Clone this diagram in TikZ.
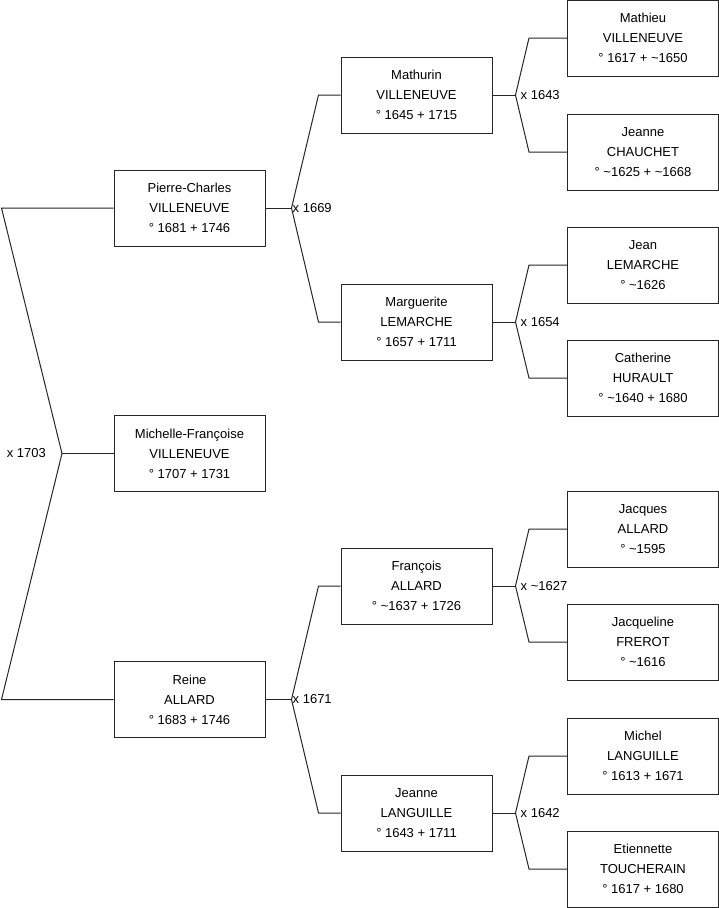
\documentclass[tikz,border=0pt]{standalone}
\usepackage{fontspec}
\setmainfont{Liberation Sans}
\usepackage{tikz}
\usetikzlibrary{positioning}

\begin{document}
\begin{tikzpicture}[
  x=1pt, y=-1pt,
  person/.style={draw=black!85, line width=1pt, fill=white, align=center, minimum width=151pt, minimum height=76pt, inner sep=0pt, font=\fontsize{13}{20}\selectfont},
  link/.style={draw=black!85, line width=1pt},
  wed/.style={inner sep=1pt, font=\fontsize{13}{15}\selectfont},
]
\useasboundingbox (0,0) rectangle (719,908);

% generation 1
\node[person] (pc) at (189.5,208) {Pierre-Charles\\VILLENEUVE\\° 1681 + 1746};
\node[person] (mf) at (189.5,453.5) {Michelle-Françoise\\VILLENEUVE\\° 1707 + 1731};
\node[person] (reine) at (189.5,699.5) {Reine\\ALLARD\\° 1683 + 1746};

% generation 2
\node[person] (mat) at (416.5,95) {Mathurin\\VILLENEUVE\\° 1645 + 1715};
\node[person] (marg) at (416.5,322) {Marguerite\\LEMARCHE\\° 1657 + 1711};
\node[person] (fran) at (416.5,586) {François\\ALLARD\\° \textasciitilde 1637 + 1726};
\node[person] (jlang) at (416.5,813) {Jeanne\\LANGUILLE\\° 1643 + 1711};

% generation 3
\node[person] (mathieu) at (643,38) {Mathieu\\VILLENEUVE\\° 1617 + \textasciitilde 1650};
\node[person] (jchau) at (643,152) {Jeanne\\CHAUCHET\\° \textasciitilde 1625 + \textasciitilde 1668};
\node[person] (jean) at (643,265) {Jean\\LEMARCHE\\° \textasciitilde 1626};
\node[person] (cath) at (643,378) {Catherine\\HURAULT\\° \textasciitilde 1640 + 1680};
\node[person] (jacq) at (643,529) {Jacques\\ALLARD\\° \textasciitilde 1595};
\node[person] (jfre) at (643,642) {Jacqueline\\FREROT\\° \textasciitilde 1616};
\node[person] (mich) at (643,756) {Michel\\LANGUILLE\\° 1613 + 1671};
\node[person] (etien) at (643,869) {Etiennette\\TOUCHERAIN\\° 1617 + 1680};

% marriage forks
\coordinate (j0) at (62,453.5);
\coordinate (j1a) at ([xshift=26pt]pc.east);
\coordinate (j1b) at ([xshift=26pt]reine.east);
\coordinate (j2a) at ([xshift=23pt]mat.east);
\coordinate (j2b) at ([xshift=23pt]marg.east);
\coordinate (j2c) at ([xshift=23pt]fran.east);
\coordinate (j2d) at ([xshift=23pt]jlang.east);

\draw[link] (pc.west) -- ([xshift=-112pt]pc.west) -- (j0) -- ([xshift=-112pt]reine.west) -- (reine.west);
\draw[link] (j0) -- (mf.west);

\draw[link] (pc.east) -- (j1a);
\draw[link] (mat.west) -- ([xshift=-22pt]mat.west) -- (j1a) -- ([xshift=-22pt]marg.west) -- (marg.west);
\draw[link] (reine.east) -- (j1b);
\draw[link] (fran.west) -- ([xshift=-22pt]fran.west) -- (j1b) -- ([xshift=-22pt]jlang.west) -- (jlang.west);

\draw[link] (mat.east) -- (j2a);
\draw[link] (mathieu.west) -- ([xshift=-38pt]mathieu.west) -- (j2a) -- ([xshift=-38pt]jchau.west) -- (jchau.west);
\draw[link] (marg.east) -- (j2b);
\draw[link] (jean.west) -- ([xshift=-38pt]jean.west) -- (j2b) -- ([xshift=-38pt]cath.west) -- (cath.west);
\draw[link] (fran.east) -- (j2c);
\draw[link] (jacq.west) -- ([xshift=-38pt]jacq.west) -- (j2c) -- ([xshift=-38pt]jfre.west) -- (jfre.west);
\draw[link] (jlang.east) -- (j2d);
\draw[link] (mich.west) -- ([xshift=-38pt]mich.west) -- (j2d) -- ([xshift=-38pt]etien.west) -- (etien.west);

% marriage dates
\node[wed, left=15pt of j0] (w0) {x 1703};
\node[wed, right=0pt of j1a] (w1a) {x 1669};
\node[wed, right=0pt of j1b] (w1b) {x 1671};
\node[wed, right=4pt of j2a] (w2a) {x 1643};
\node[wed, right=4pt of j2b] (w2b) {x 1654};
\node[wed, right=4pt of j2c] (w2c) {x \textasciitilde 1627};
\node[wed, right=4pt of j2d] (w2d) {x 1642};
\end{tikzpicture}
\end{document}
